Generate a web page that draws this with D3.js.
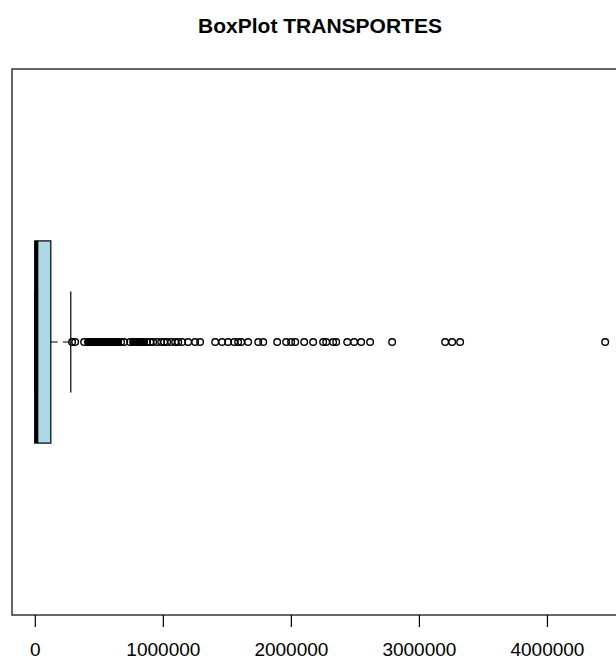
<!DOCTYPE html>
<html>
<head>
<meta charset="utf-8">
<script src="https://cdn.jsdelivr.net/npm/d3@7"></script>
<style>
  body { margin: 0; background: #fff; }
  text { font-family: "Liberation Sans", Arial, sans-serif; fill: #000; }
</style>
</head>
<body>
<svg width="616" height="662"></svg>
<script>
var svg = d3.select("svg"),
	width = +svg.attr("width"),
	height = +svg.attr("height");

// box statistics (TRANSPORTES)
var whiskerLow = 0;
var q1 = 0;
var median = 12000;
var q3 = 125000;
var whiskerHigh = 281000;

// outliers
var outliers = [
	291000, 315000, 385000, 416000, 420000, 424000, 428000, 432000, 436000, 440000,
	444000, 448000, 452000, 455000, 459000, 463000, 467000, 471000, 475000, 479000,
	483000, 487000, 491000, 495000, 499000, 503000, 506000, 510000, 514000, 518000,
	522000, 526000, 530000, 534000, 537000, 541000, 545000, 549000, 553000, 557000,
	561000, 565000, 569000, 573000, 577000, 581000, 584000, 588000, 592000, 596000,
	600000, 604000, 608000, 612000, 616000, 620000, 623000, 627000, 631000, 635000,
	639000, 643000, 647000, 651000, 674000, 698000, 745000, 768000, 772000, 776000,
	780000, 784000, 788000, 792000, 795000, 799000, 803000, 807000, 811000, 815000,
	819000, 823000, 827000, 831000, 834000, 838000, 842000, 846000, 854000, 877000,
	901000, 924000, 955000, 987000, 1010000, 1034000, 1065000, 1096000, 1120000,
	1151000, 1198000, 1252000, 1291000,
	1409000, 1463000, 1510000, 1557000, 1588000, 1612000, 1666000, 1745000, 1784000,
	1893000, 1963000, 2002000, 2034000, 2104000, 2174000, 2252000, 2276000, 2330000,
	2354000, 2440000, 2494000, 2549000, 2619000, 2791000, 3205000, 3260000, 3322000,
	4455000
];

var tickValues = [0, 1000000, 2000000, 3000000, 4000000];
var title = "BoxPlot TRANSPORTES";

var plot = {left: 12, right: 628, top: 69, bottom: 615};

// R style: extend data range by 4% on each side
var lo = d3.min([whiskerLow].concat(outliers)),
	hi = d3.max([whiskerHigh].concat(outliers)),
	pad = (hi - lo) * 0.04;

var x = d3.scaleLinear()
	.domain([lo - pad, hi + pad])
	.range([plot.left, plot.right]);

// one group, y from 0.5 to 1.5 with 4% extension
var y = d3.scaleLinear()
	.domain([0.46, 1.54])
	.range([plot.bottom, plot.top]);

var boxHalf = 0.2, stapleHalf = 0.1;

// title
svg.append("text")
	.attr("x", 320)
	.attr("y", 33)
	.attr("text-anchor", "middle")
	.style("font-weight", "bold")
	.style("font-size", "21px")
	.text(title);

var g = svg.append("g");

// box
g.append("rect")
	.attr("x", x(q1))
	.attr("y", y(1 + boxHalf))
	.attr("width", x(q3) - x(q1))
	.attr("height", y(1 - boxHalf) - y(1 + boxHalf))
	.attr("fill", "#add8e6")
	.attr("stroke", "#000")
	.attr("stroke-width", 1.2);

// whiskers
g.append("line")
	.attr("x1", x(q3)).attr("x2", x(whiskerHigh))
	.attr("y1", y(1)).attr("y2", y(1))
	.attr("stroke", "#000")
	.attr("stroke-width", 1.2)
	.attr("stroke-dasharray", "7,5");

g.append("line")
	.attr("x1", x(whiskerLow)).attr("x2", x(q1))
	.attr("y1", y(1)).attr("y2", y(1))
	.attr("stroke", "#000")
	.attr("stroke-dasharray", "7,5");

// staples
[whiskerLow, whiskerHigh].forEach(function(v) {
	g.append("line")
		.attr("x1", x(v)).attr("x2", x(v))
		.attr("y1", y(1 + stapleHalf)).attr("y2", y(1 - stapleHalf))
		.attr("stroke", "#000")
		.attr("stroke-width", 1.2);
});

// median
g.append("line")
	.attr("x1", x(median)).attr("x2", x(median))
	.attr("y1", y(1 + boxHalf)).attr("y2", y(1 - boxHalf))
	.attr("stroke", "#000")
	.attr("stroke-width", 4);

// outliers
g.selectAll(".out")
	.data(outliers).enter()
	.append("circle")
	.attr("class", "out")
	.attr("cx", function(d) { return x(d); })
	.attr("cy", y(1))
	.attr("r", 3.3)
	.attr("fill", "none")
	.attr("stroke", "#000")
	.attr("stroke-width", 1.4);

// frame
svg.append("rect")
	.attr("x", plot.left)
	.attr("y", plot.top)
	.attr("width", plot.right - plot.left)
	.attr("height", plot.bottom - plot.top)
	.attr("fill", "none")
	.attr("stroke", "#333")
	.attr("stroke-width", 1.5);

// x axis
var axis = d3.axisBottom(x)
	.tickValues(tickValues)
	.tickFormat(d3.format("d"))
	.tickSize(12)
	.tickPadding(16);

var ax = svg.append("g")
	.attr("transform", "translate(0," + plot.bottom + ")")
	.call(axis);

ax.select(".domain").remove();
ax.selectAll(".tick line").attr("stroke", "#000").attr("stroke-width", 1.2);
ax.selectAll(".tick text")
	.style("font-size", "19px")
	.style("font-family", "'Liberation Sans', Arial, sans-serif")
	.attr("fill", "#000");
</script>
</body>
</html>
